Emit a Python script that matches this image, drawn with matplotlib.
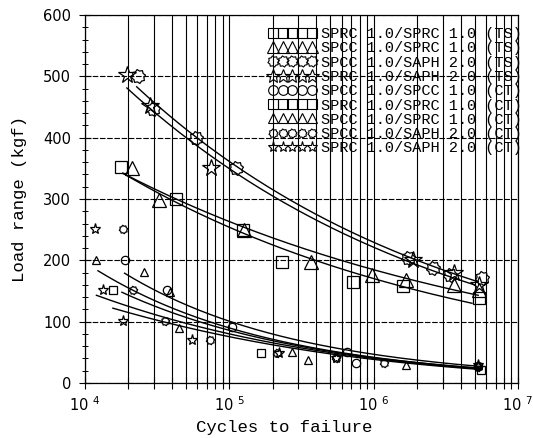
import numpy as np
import matplotlib
matplotlib.use("Agg")
import matplotlib.pyplot as plt
from matplotlib.path import Path
from matplotlib.lines import Line2D
from matplotlib.ticker import FixedLocator, FuncFormatter, MultipleLocator

# ---------------- data ----------------
labels = [
    "SPRC 1.0/SPRC 1.0 (TS)",
    "SPCC 1.0/SPRC 1.0 (TS)",
    "SPCC 1.0/SAPH 2.0 (TS)",
    "SPRC 1.0/SAPH 2.0 (TS)",
    "SPCC 1.0/SPCC 1.0 (CT)",
    "SPRC 1.0/SPRC 1.0 (CT)",
    "SPCC 1.0/SPRC 1.0 (CT)",
    "SPCC 1.0/SAPH 2.0 (CT)",
    "SPRC 1.0/SAPH 2.0 (CT)",
]

ts_sprc_sprc_N = [1.77e4, 4.3e4, 1.25e5, 2.3e5, 7.2e5, 1.6e6, 5.4e6]
ts_sprc_sprc_P = [352, 300, 250, 197, 165, 158, 139]

ts_spcc_sprc_N = [2.1e4, 3.24e4, 1.27e5, 3.7e5, 9.8e5, 1.67e6, 3.6e6, 5.4e6]
ts_spcc_sprc_P = [350, 298, 250, 197, 176, 168, 160, 152]

ts_spcc_saph_N = [2.32e4, 2.95e4, 5.9e4, 1.12e5, 1.73e6, 2.57e6, 3.4e6, 5.6e6]
ts_spcc_saph_P = [500, 447, 400, 350, 204, 188, 176, 171]

ts_sprc_saph_N = [1.95e4, 2.8e4, 7.5e4, 1.88e6, 3.6e6, 5.4e6]
ts_sprc_saph_P = [502, 452, 350, 200, 179, 160]

ct_spcc_spcc_N = [1.88e4, 3.68e4, 1.05e5, 6.5e5, 7.5e5, 5.3e6]
ct_spcc_spcc_P = [200, 152, 91, 50, 33, 27]

ct_sprc_sprc_N = [1.56e4, 1.66e5, 5.5e6]
ct_sprc_sprc_P = [152, 49, 22]

ct_spcc_sprc_N = [1.2e4, 2.55e4, 3.9e4, 4.5e4, 2.7e5, 3.5e5, 1.67e6, 5.3e6]
ct_spcc_sprc_P = [200, 181, 148, 90, 50, 37, 30, 30]

ct_spcc_saph_N = [1.83e4, 2.14e4, 3.56e4, 7.3e4, 2.14e5, 5.5e5, 1.17e6, 5.3e6]
ct_spcc_saph_P = [251, 152, 101, 70, 49, 41, 32, 26]

ct_sprc_saph_N = [1.17e4, 1.33e4, 1.83e4, 5.5e4, 2.2e5, 5.5e5, 5.3e6]
ct_sprc_saph_P = [251, 152, 101, 70, 49, 40, 29]

# fitted curves: (start, middle, end) points
fit_N = [
    [1.95e4, 2.4e5, 5.0e6],
    [2.28e4, 2.4e5, 5.3e6],
    [1.83e4, 2.4e5, 5.3e6],
    [1.83e4, 2.4e5, 4.8e6],
    [1.23e4, 2.4e5, 5.5e6],
    [1.88e4, 2.4e5, 5.5e6],
    [1.80e4, 2.4e5, 5.5e6],
    [1.20e4, 2.4e5, 5.5e6],
    [1.56e4, 2.4e5, 5.5e6],
]
fit_P = [
    [481, 294, 160],
    [483, 304, 165],
    [342, 230, 143],
    [342, 218, 130],
    [183, 67, 24],
    [179, 75, 27],
    [148, 65, 24],
    [143, 62, 23],
    [122, 59, 22],
]

x_ticks = [1e4, 1e5, 1e6, 1e7]
y_ticks = [0, 100, 200, 300, 400, 500, 600]

# ---------------- styling ----------------
ang = np.linspace(0, 2 * np.pi, 17)[:-1]
rad = np.where(np.arange(16) % 2 == 0, 1.0, 0.78)
fv = np.column_stack([rad * np.cos(ang + np.pi / 16), rad * np.sin(ang + np.pi / 16)])
fv = np.vstack([fv, fv[:1]])
flower = Path(fv, closed=True)

series = [
    (ts_sprc_sprc_N, ts_sprc_sprc_P, "s", 9.0),
    (ts_spcc_sprc_N, ts_spcc_sprc_P, "^", 10.0),
    (ts_spcc_saph_N, ts_spcc_saph_P, flower, 10.0),
    (ts_sprc_saph_N, ts_sprc_saph_P, "*", 13.0),
    (ct_spcc_spcc_N, ct_spcc_spcc_P, "o", 6.0),
    (ct_sprc_sprc_N, ct_sprc_sprc_P, "s", 5.5),
    (ct_spcc_sprc_N, ct_spcc_sprc_P, "^", 6.0),
    (ct_spcc_saph_N, ct_spcc_saph_P, flower, 6.0),
    (ct_sprc_saph_N, ct_sprc_saph_P, "*", 8.0),
]
legend_sizes = [7.5, 8.5, 8.0, 10.0, 7.0, 7.0, 7.5, 6.5, 8.0]

W, H = 533, 438
fig = plt.figure(figsize=(W / 100, H / 100), dpi=100)
ax = fig.add_axes([85 / W, 1 - 383 / H, 433 / W, 368 / H])
ax.set_xscale("log")
ax.set_xlim(1e4, 1e7)
ax.set_ylim(0, 600)

# grid
ax.xaxis.set_major_locator(FixedLocator(x_ticks))
ax.xaxis.set_minor_locator(FixedLocator(
    [m * 10 ** e for e in (4, 5, 6) for m in range(2, 10)]))
ax.xaxis.set_major_formatter(FuncFormatter(
    lambda v, p: "10 $^{%d}$" % int(round(np.log10(v)))))
ax.xaxis.set_minor_formatter(FuncFormatter(lambda v, p: ""))
ax.yaxis.set_major_locator(FixedLocator(y_ticks))
ax.yaxis.set_minor_locator(MultipleLocator(20))
ax.grid(True, which="both", axis="x", color="black", lw=0.8, zorder=0)
ax.grid(True, which="major", axis="y", color="black", lw=0.8,
        ls=(0, (5, 1.5)), zorder=0)
ax.set_axisbelow(True)
for s in ax.spines.values():
    s.set_linewidth(0.9)

ax.tick_params(axis="x", which="both", direction="inout", length=8,
               width=0.8, labelsize=10.5, pad=5)
ax.tick_params(axis="y", which="major", direction="inout", length=8,
               width=0.8, labelsize=10.5, pad=6)
ax.tick_params(axis="y", which="minor", direction="inout", length=4,
               width=0.7)

# fitted lines
for nn, pp in zip(fit_N, fit_P):
    lx = np.log10(nn)
    ly = np.log10(pp)
    c = np.polyfit(lx, ly, 2)
    xs = np.linspace(lx[0], lx[-1], 200)
    ax.plot(10 ** xs, 10 ** np.polyval(c, xs), color="black", lw=1.0, zorder=2)

# data points
for (nn, pp, mk, ms) in series:
    ax.plot(nn, pp, ls="none", marker=mk, ms=ms, mfc="none", mec="black",
            mew=0.9, zorder=3)

mono = "Liberation Mono"
ax.set_ylabel("Load range (kgf)", family=mono, fontsize=12.5)
ax.set_xlabel("Cycles to failure", family=mono, fontsize=12.5)
ax.yaxis.set_label_coords((27 - 85) / 433, 0.5)
ax.xaxis.set_label_coords((284 - 85) / 433, -(420 - 383) / 368)

handles = [Line2D([], [], ls="none", marker=s[2], ms=legend_sizes[i],
                  mfc="none", mec="black", mew=0.8)
           for i, s in enumerate(series)]
fig.legend(handles, labels, loc="upper left",
           bbox_to_anchor=(268 / W, 1 - 27 / H), frameon=False,
           numpoints=5, handlelength=3.2, handletextpad=0.3,
           labelspacing=0.02, borderpad=0, borderaxespad=0,
           prop={"family": mono, "size": 11})

fig.savefig("out.png", dpi=100)
